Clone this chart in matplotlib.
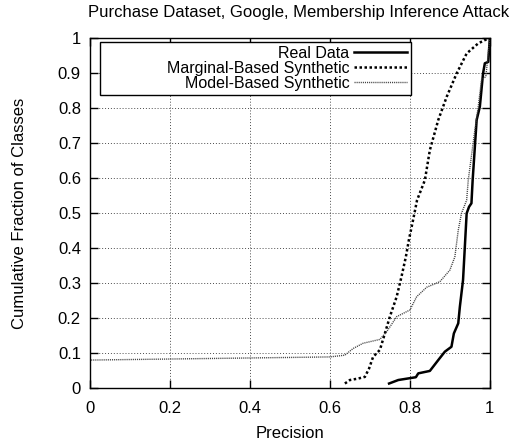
import matplotlib
matplotlib.use('Agg')
import matplotlib.pyplot as plt
from matplotlib.ticker import FuncFormatter

# CDF curves (precision, cumulative fraction)
real_x = [0.748, 0.771, 0.815, 0.821, 0.85, 0.871, 0.8875, 0.904, 0.91, 0.921, 0.925,
          0.933, 0.9375, 0.942, 0.948, 0.954, 0.957, 0.967, 0.975, 0.983, 0.9875, 0.996, 1.0]
real_y = [0.013, 0.023, 0.031, 0.042, 0.049, 0.08, 0.104, 0.118, 0.156, 0.185, 0.232,
          0.309, 0.404, 0.499, 0.518, 0.528, 0.594, 0.766, 0.804, 0.899, 0.928, 0.932, 1.0]

marg_x = [0.6375, 0.65, 0.67, 0.6875, 0.698, 0.708, 0.725, 0.7375, 0.75, 0.767, 0.779, 0.79,
          0.7975, 0.808, 0.818, 0.8375, 0.85, 0.871, 0.892, 0.917, 0.942, 0.971, 0.996]
marg_y = [0.013, 0.023, 0.027, 0.032, 0.056, 0.089, 0.109, 0.156, 0.204, 0.261, 0.318, 0.375,
          0.423, 0.48, 0.537, 0.594, 0.68, 0.766, 0.832, 0.899, 0.956, 0.985, 0.999]

model_x = [0, 0, 0.6, 0.6375, 0.658, 0.683, 0.725, 0.742, 0.767, 0.8, 0.817, 0.842, 0.875,
           0.9, 0.9125, 0.921, 0.929, 0.942, 0.946, 0.9625, 0.971, 0.979, 0.99, 1.0]
model_y = [0, 0.08, 0.089, 0.094, 0.113, 0.128, 0.139, 0.161, 0.204, 0.223, 0.261, 0.288, 0.304,
           0.337, 0.375, 0.451, 0.499, 0.537, 0.594, 0.737, 0.804, 0.88, 0.89, 1.0]

x_ticks = [0, 0.2, 0.4, 0.6, 0.8, 1]
y_ticks = [0, 0.1, 0.2, 0.3, 0.4, 0.5, 0.6, 0.7, 0.8, 0.9, 1]

plt.rcParams['font.family'] = ['Liberation Sans', 'DejaVu Sans']
plt.rcParams['font.size'] = 12

fig = plt.figure(figsize=(5.2, 4.43), dpi=100)
ax = fig.add_axes([0.173, 0.124, 0.769, 0.79])

ax.plot(real_x, real_y, color='black', lw=1.8, label='Real Data')
ax.plot(marg_x, marg_y, color='black', lw=1.8, linestyle=(0, (1, 1)),
        label='Marginal-Based Synthetic')
ax.plot(model_x, model_y, color='#444444', lw=1.0, linestyle=(0, (0.8, 0.7)),
        label='Model-Based Synthetic')

ax.set_xlim(0, 1)
ax.set_ylim(0, 1)
ax.set_xticks(x_ticks)
ax.set_yticks(y_ticks)
fmt = FuncFormatter(lambda v, p: '%g' % v)
ax.xaxis.set_major_formatter(fmt)
ax.yaxis.set_major_formatter(fmt)
ax.tick_params(direction='in', length=6, width=1, top=True, right=True, pad=6.5)
ax.tick_params(axis='x', pad=9.5)
ax.grid(True, color='black', linestyle=(0, (1, 2)), lw=0.7, alpha=0.7)
for s in ax.spines.values():
    s.set_linewidth(1)

ax.set_title('Purchase Dataset, Google, Membership Inference Attack', fontsize=12,
             pad=15, x=0.5225)
ax.set_xlabel('Precision', labelpad=7)
ax.set_ylabel('Cumulative Fraction of Classes', labelpad=22)

leg = ax.legend(loc='upper left', bbox_to_anchor=(0.025, 0.989), borderaxespad=0,
                fontsize=11.5, markerfirst=False, fancybox=False, edgecolor='black',
                framealpha=1, handlelength=3.3, handletextpad=0.3, labelspacing=0,
                borderpad=0.25)
leg.get_frame().set_linewidth(1)
# gnuplot-style key: fixed-width box, text right-justified against the samples
vp = leg._legend_box._children[-1]._children[0]
vp.align = 'right'
vp.width = 303

fig.savefig('out.png', dpi=100)
